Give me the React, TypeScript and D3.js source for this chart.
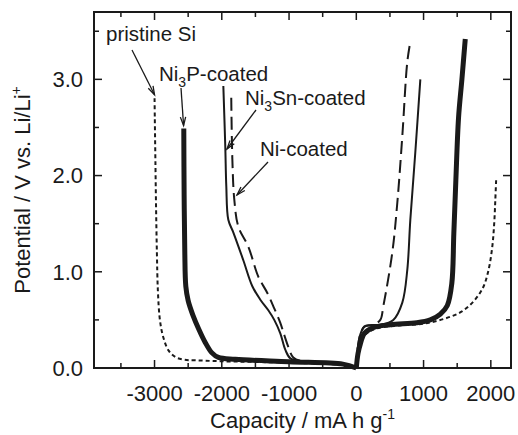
import React from "react";
import * as d3 from "d3";

// capacity (mA h g-1), potential (V)
const pristineDischarge: [number, number][] = [
  [0, 0], [-200, 0.03], [-1000, 0.055], [-2000, 0.07], [-2400, 0.08], [-2550, 0.085],
  [-2680, 0.11], [-2790, 0.18], [-2870, 0.32], [-2920, 0.5], [-2950, 0.8],
  [-2965, 1.2], [-2978, 1.7], [-2988, 2.2], [-2996, 2.6], [-3000, 2.82],
];
const pristineCharge: [number, number][] = [
  [0, 0], [20, 0.15], [60, 0.28], [150, 0.36], [300, 0.41], [600, 0.44], [1000, 0.46],
  [1300, 0.51], [1550, 0.58], [1740, 0.69], [1880, 0.83], [1960, 1.0], [2020, 1.25],
  [2050, 1.5], [2067, 1.75], [2080, 1.97],
];
const ni3pDischarge: [number, number][] = [
  [0, 0], [-200, 0.04], [-1000, 0.065], [-1800, 0.09], [-2050, 0.11], [-2150, 0.16],
  [-2250, 0.27], [-2340, 0.4], [-2430, 0.55], [-2500, 0.7], [-2535, 0.85],
  [-2550, 1.2], [-2560, 1.8], [-2565, 2.49],
];
const ni3pCharge: [number, number][] = [
  [0, 0], [25, 0.15], [60, 0.25], [120, 0.36], [250, 0.42], [505, 0.45], [900, 0.47],
  [1100, 0.5], [1250, 0.56], [1353, 0.65], [1420, 0.88], [1450, 1.4], [1480, 1.95],
  [1520, 2.6], [1570, 3.0], [1620, 3.42],
];
const ni3snDischarge: [number, number][] = [
  [0, 0], [-200, 0.04], [-800, 0.07], [-980, 0.1], [-1056, 0.19], [-1130, 0.36],
  [-1220, 0.5], [-1308, 0.6], [-1427, 0.71], [-1546, 0.85], [-1680, 1.12],
  [-1829, 1.41], [-1903, 1.54], [-1933, 1.89], [-1948, 2.3], [-1977, 2.93],
];
const ni3snCharge: [number, number][] = [
  [0, 0], [20, 0.2], [60, 0.35], [120, 0.43], [200, 0.445], [357, 0.45], [550, 0.5],
  [684, 0.68], [758, 1.02], [803, 1.54], [877, 2.24], [952, 3.0],
];
const niDischarge: [number, number][] = [
  [0, 0], [-200, 0.04], [-800, 0.07], [-937, 0.11], [-1011, 0.22], [-1070, 0.34],
  [-1130, 0.47], [-1220, 0.62], [-1323, 0.78], [-1457, 0.95], [-1605, 1.26],
  [-1754, 1.47], [-1814, 1.75], [-1843, 2.17], [-1860, 2.85],
];
const niCharge: [number, number][] = [
  [0, 0], [20, 0.2], [60, 0.35], [120, 0.43], [253, 0.45], [357, 0.5], [401, 0.64],
  [535, 1.2], [610, 1.72], [684, 2.41], [758, 3.18], [803, 3.39],
];

const xTicks = [-3000, -2000, -1000, 0, 1000, 2000];
const xMinor = [-3500, -2500, -1500, -500, 500, 1500];
const yTicks = [0, 1, 2, 3];
const yMinor = [0.5, 1.5, 2.5, 3.5];

const W = 518, H = 435;
const L = 94, R = 511, T = 12, B = 368;
const font = "'Liberation Sans', Arial, sans-serif";
const ink = "#1a1a1a";

export default function App() {
  const x = d3.scaleLinear().domain([-3900, 2300]).range([L, R]);
  const y = d3.scaleLinear().domain([0, 3.7]).range([B, T]);
  const line = d3.line<[number, number]>()
    .x(d => x(d[0])).y(d => y(d[1]))
    .curve(d3.curveCatmullRom.alpha(0.5));

  const series = [
    { data: [pristineDischarge, pristineCharge], w: 2, dash: "4,3" },
    { data: [niDischarge, niCharge], w: 2, dash: "13,6" },
    { data: [ni3snDischarge, ni3snCharge], w: 2, dash: "" },
    { data: [ni3pDischarge, ni3pCharge], w: 5, dash: "" },
  ];

  const arrow = (x1: number, y1: number, x2: number, y2: number) => {
    const a = Math.atan2(y2 - y1, x2 - x1);
    const len = 9, sp = 0.3;
    const p1 = [x2 - len * Math.cos(a - sp), y2 - len * Math.sin(a - sp)];
    const p2 = [x2 - len * Math.cos(a + sp), y2 - len * Math.sin(a + sp)];
    return (
      <g stroke={ink} strokeWidth={1.3} fill="none">
        <line x1={x1} y1={y1} x2={x2} y2={y2} />
        <polyline points={`${p1[0]},${p1[1]} ${x2},${y2} ${p2[0]},${p2[1]}`} />
      </g>
    );
  };

  return (
    <svg width={W} height={H} style={{ position: "absolute", left: 0, top: 0, background: "#fff" }}>
      <g fill="none" stroke={ink}>
        {series.map((s, i) =>
          s.data.map((d, j) => (
            <path key={`${i}-${j}`} d={line(d) || ""} strokeWidth={s.w}
              strokeDasharray={s.dash || undefined} strokeLinejoin="round" />
          ))
        )}
      </g>
      <g stroke={ink} strokeWidth={1.5}>
        {xTicks.map(v => (
          <g key={`xt${v}`}>
            <line x1={x(v)} x2={x(v)} y1={B} y2={B - 8} />
            <line x1={x(v)} x2={x(v)} y1={T} y2={T + 8} />
          </g>
        ))}
        {xMinor.map(v => (
          <g key={`xm${v}`}>
            <line x1={x(v)} x2={x(v)} y1={B} y2={B - 5} />
            <line x1={x(v)} x2={x(v)} y1={T} y2={T + 5} />
          </g>
        ))}
        {yTicks.map(v => (
          <g key={`yt${v}`}>
            <line x1={L} x2={L + 8} y1={y(v)} y2={y(v)} />
            <line x1={R} x2={R - 8} y1={y(v)} y2={y(v)} />
          </g>
        ))}
        {yMinor.map(v => (
          <g key={`ym${v}`}>
            <line x1={L} x2={L + 5} y1={y(v)} y2={y(v)} />
            <line x1={R} x2={R - 5} y1={y(v)} y2={y(v)} />
          </g>
        ))}
      </g>
      <rect x={L} y={T} width={R - L} height={B - T} fill="none" stroke={ink} strokeWidth={2} />
      <g fontFamily={font} fontSize={22} fill={ink}>
        {xTicks.map(v => (
          <text key={`xl${v}`} x={x(v)} y={B + 33} textAnchor="middle">{String(v)}</text>
        ))}
        {yTicks.map(v => (
          <text key={`yl${v}`} x={L - 11} y={y(v)} dy="0.36em" textAnchor="end">{d3.format(".1f")(v)}</text>
        ))}
        <text x={(L + R) / 2} y={428} textAnchor="middle">
          Capacity / mA h g<tspan dy={-9} fontSize={14}>-1</tspan>
        </text>
        <text transform={`translate(30,${(T + B) / 2}) rotate(-90)`} textAnchor="middle">
          Potential / V vs. Li/Li<tspan dy={-9} fontSize={14}>+</tspan>
        </text>
      </g>
      <g fontFamily={font} fontSize={20.5} fill={ink}>
        <text x={106} y={41}>pristine Si</text>
        <text x={159} y={81}>Ni<tspan dy={6} fontSize={14}>3</tspan><tspan dy={-6}>P-coated</tspan></text>
        <text x={245} y={105}>Ni<tspan dy={6} fontSize={14}>3</tspan><tspan dy={-6}>Sn-coated</tspan></text>
        <text x={260} y={156}>Ni-coated</text>
      </g>
      {arrow(132, 50, x(-3000), y(2.84))}
      {arrow(181, 88, x(-2568), y(2.52))}
      {arrow(256, 110, 227, 149)}
      {arrow(268, 162, 237, 195)}
    </svg>
  );
}
